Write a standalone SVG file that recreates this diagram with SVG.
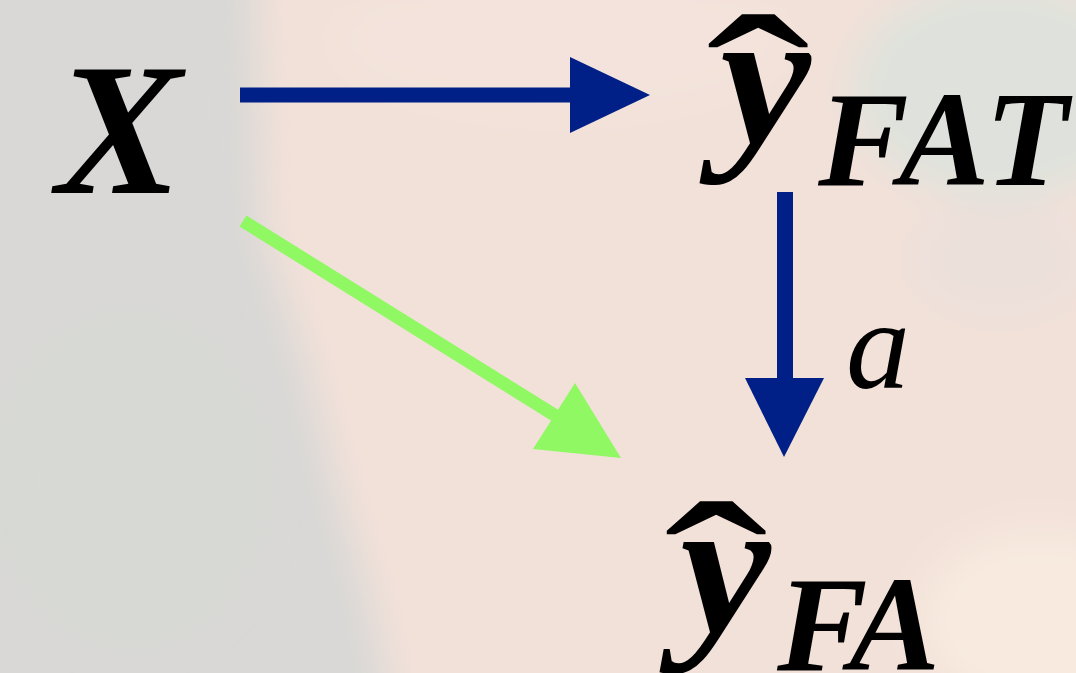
<svg xmlns="http://www.w3.org/2000/svg" width="1076" height="673" viewBox="0 0 1076 673">
  <defs>
    <filter id="soft" x="-20%" y="-20%" width="140%" height="140%">
      <feGaussianBlur stdDeviation="18"/>
    </filter>
    <style>
      .math { font-family: "Liberation Serif", "DejaVu Serif", serif; font-weight: bold; font-style: italic; fill: #000; }
      .lbl { font-family: "Liberation Serif", "DejaVu Serif", serif; font-style: italic; fill: #000; }
      .hat { font-family: "Liberation Serif", "DejaVu Serif", serif; fill: #000; }
      .blue { fill: #012087; }
      .blueline { stroke: #012087; fill: none; }
      .green { fill: #8ff863; }
      .greenline { stroke: #8ff863; fill: none; }
    </style>
  </defs>

  <!-- blurred photo background -->
  <g id="background">
    <rect x="0" y="0" width="1076" height="673" fill="#d9d8d6"/>
    <g filter="url(#soft)">
      <path d="M255 -40 L1120 -40 L1120 720 L395 720 L370 600 L335 480 L305 360 L262 230 Z" fill="#f2e1d9"/>
      <ellipse cx="1000" cy="90" rx="150" ry="110" fill="#dfe2dc"/>
      <ellipse cx="560" cy="40" rx="220" ry="70" fill="#f3e3dc"/>
      <ellipse cx="1040" cy="620" rx="120" ry="90" fill="#f8eadf"/>
      <ellipse cx="130" cy="480" rx="130" ry="160" fill="#d6d9d4"/>
      <ellipse cx="1000" cy="260" rx="90" ry="60" fill="#ece0da"/>
    </g>
  </g>

  <!-- connectors -->
  <g id="connectors">
    <line class="blueline" x1="240" y1="95" x2="575" y2="95" stroke-width="15"/>
    <polygon class="blue" points="570,57 650,95 570,133"/>
    <line class="blueline" x1="785" y1="192" x2="785" y2="382" stroke-width="16"/>
    <polygon class="blue" points="745,378 824,378 784,457"/>
    <line class="greenline" x1="243" y1="221" x2="580" y2="431" stroke-width="13"/>
    <polygon class="green" points="575,383 621,458 533,449"/>
    <text id="label-a" class="lbl" x="846" y="388" font-size="128">a</text>
  </g>

  <g id="node-X">
    <text class="math" x="56" y="193" font-size="189">X</text>
  </g>

  <g id="node-yFAT">
    <text class="hat" x="0" y="0" font-size="240" transform="translate(758,168) scale(1.3,0.92)" text-anchor="middle">ˆ</text>
    <text class="math" x="0" y="0" font-size="195" transform="translate(720,143) scale(1.05,1)">y</text>
    <text class="math" x="818" y="185" font-size="136" textLength="250" lengthAdjust="spacing">FAT</text>
  </g>

  <g id="node-yFA">
    <text class="hat" x="0" y="0" font-size="240" transform="translate(716,655) scale(1.3,0.92)" text-anchor="middle">ˆ</text>
    <text class="math" x="0" y="0" font-size="195" transform="translate(680,632) scale(1.05,1)">y</text>
    <text class="math" x="777" y="670" font-size="136" textLength="163" lengthAdjust="spacing">FA</text>
  </g>
</svg>
